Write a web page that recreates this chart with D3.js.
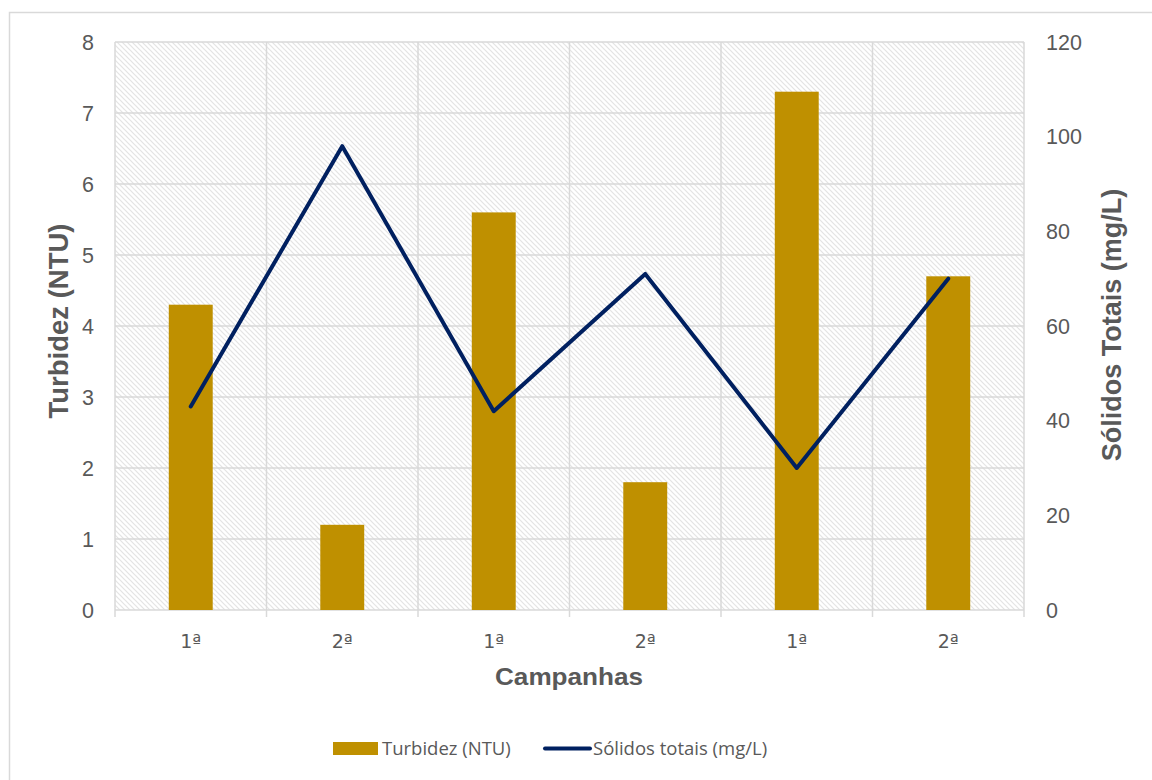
<!DOCTYPE html>
<html>
<head>
<meta charset="utf-8">
<script src="https://cdn.jsdelivr.net/npm/d3@7"></script>
<style>
  html, body { margin: 0; padding: 0; background: #fff; }
  svg { display: block; }
</style>
</head>
<body>
<svg id="chart" width="1152" height="780"></svg>
<script>
const categories = ["1ª", "2ª", "1ª", "2ª", "1ª", "2ª"];
const turbidez = [4.3, 1.2, 5.6, 1.8, 7.3, 4.7];
const solidos = [43, 98, 42, 71, 30, 70];
const leftTicks = [0, 1, 2, 3, 4, 5, 6, 7, 8];
const rightTicks = [0, 20, 40, 60, 80, 100, 120];
const seriesNames = ["Turbidez (NTU)", "Sólidos totais (mg/L)"];

const svg = d3.select("#chart");
const W = 1152, H = 780;
const m = { left: 115, right: 1024, top: 42, bottom: 610 };
const grid = "#d9d9d9";
const textCol = "#595959";
const barCol = "#BF9000";
const lineCol = "#002060";

// outer chart border
svg.append("rect").attr("x", 9.5).attr("y", 12.5).attr("width", W + 10).attr("height", H + 10)
  .attr("fill", "#fff").attr("stroke", grid).attr("stroke-width", 1.5);

// hatch pattern
const defs = svg.append("defs");
const pat = defs.append("pattern").attr("id", "hatch").attr("patternUnits", "userSpaceOnUse")
  .attr("width", 5).attr("height", 5);
pat.append("rect").attr("width", 5).attr("height", 5).attr("fill", "#fff");
pat.append("path").attr("d", "M-1,-1 L6,6 M-1,4 L1,6 M4,-1 L6,1")
  .attr("stroke", "#e4e4e4").attr("stroke-width", 1.2);

const x = d3.scaleBand().domain(d3.range(categories.length)).range([m.left, m.right]).paddingInner(0).paddingOuter(0);
const yL = d3.scaleLinear().domain([0, 8]).range([m.bottom, m.top]);
const yR = d3.scaleLinear().domain([0, 120]).range([m.bottom, m.top]);

// plot background
svg.append("rect").attr("x", m.left).attr("y", m.top).attr("width", m.right - m.left)
  .attr("height", m.bottom - m.top).attr("fill", "url(#hatch)");

// horizontal gridlines
svg.append("g").selectAll("line").data(leftTicks).join("line")
  .attr("x1", m.left).attr("x2", m.right)
  .attr("y1", d => yL(d)).attr("y2", d => yL(d))
  .attr("stroke", grid).attr("stroke-width", 1.5);

// vertical gridlines at category boundaries (with ticks below axis)
const bounds = d3.range(categories.length + 1).map(i => i < categories.length ? x(i) : m.right);
svg.append("g").selectAll("line").data(bounds).join("line")
  .attr("x1", d => d).attr("x2", d => d)
  .attr("y1", m.top).attr("y2", m.bottom + 7)
  .attr("stroke", grid).attr("stroke-width", 1.5);

// bars
const bw = x.bandwidth() * 0.29;
svg.append("g").selectAll("rect").data(turbidez).join("rect")
  .attr("x", (d, i) => x(i) + x.bandwidth() / 2 - bw / 2)
  .attr("width", bw)
  .attr("y", d => yL(d))
  .attr("height", d => yL(0) - yL(d))
  .attr("fill", barCol);

// line
const line = d3.line().x((d, i) => x(i) + x.bandwidth() / 2).y(d => yR(d));
svg.append("path").datum(solidos).attr("d", line)
  .attr("fill", "none").attr("stroke", lineCol).attr("stroke-width", 4)
  .attr("stroke-linejoin", "round").attr("stroke-linecap", "round");

// left axis labels
svg.append("g").selectAll("text").data(leftTicks).join("text")
  .attr("x", 94).attr("y", d => yL(d)).attr("dy", "0.36em")
  .attr("text-anchor", "end").attr("font-family", "Liberation Sans, Arial, sans-serif")
  .attr("font-size", 21.5).attr("fill", textCol).text(d => d);

// right axis labels
svg.append("g").selectAll("text").data(rightTicks).join("text")
  .attr("x", 1046).attr("y", d => yR(d)).attr("dy", "0.36em")
  .attr("text-anchor", "start").attr("font-family", "Liberation Sans, Arial, sans-serif")
  .attr("font-size", 21.5).attr("fill", textCol).text(d => d);

// category labels
svg.append("g").selectAll("text").data(categories).join("text")
  .attr("x", (d, i) => x(i) + x.bandwidth() / 2).attr("y", 648)
  .attr("text-anchor", "middle").attr("font-family", "DejaVu Sans, sans-serif")
  .attr("font-size", 19).attr("fill", textCol).text(d => d);

// axis titles
svg.append("text").attr("x", 569).attr("y", 685).attr("text-anchor", "middle")
  .attr("font-family", "Liberation Sans, Arial, sans-serif").attr("font-weight", "bold")
  .attr("font-size", 24).attr("textLength", 148).attr("lengthAdjust", "spacingAndGlyphs")
  .attr("fill", textCol).text("Campanhas");

svg.append("text").attr("transform", "translate(68,321) rotate(-90)").attr("text-anchor", "middle")
  .attr("font-family", "Liberation Sans, Arial, sans-serif").attr("font-weight", "bold")
  .attr("font-size", 27.5).attr("fill", textCol).text("Turbidez (NTU)");

svg.append("text").attr("transform", "translate(1121,325) rotate(-90)").attr("text-anchor", "middle")
  .attr("font-family", "Liberation Sans, Arial, sans-serif").attr("font-weight", "bold")
  .attr("font-size", 27).attr("fill", textCol).text("Sólidos Totais (mg/L)");

// legend
const lg = svg.append("g");
lg.append("rect").attr("x", 333).attr("y", 742).attr("width", 45).attr("height", 13).attr("fill", barCol);
lg.append("text").attr("x", 382).attr("y", 755).attr("font-family", "Open Sans, sans-serif")
  .attr("font-size", 18.5).attr("fill", textCol).text(seriesNames[0]);
lg.append("line").attr("x1", 545).attr("x2", 590).attr("y1", 748.5).attr("y2", 748.5)
  .attr("stroke", lineCol).attr("stroke-width", 4).attr("stroke-linecap", "round");
lg.append("text").attr("x", 593).attr("y", 755).attr("font-family", "Open Sans, sans-serif")
  .attr("font-size", 18.5).attr("fill", textCol).text(seriesNames[1]);
</script>
</body>
</html>
